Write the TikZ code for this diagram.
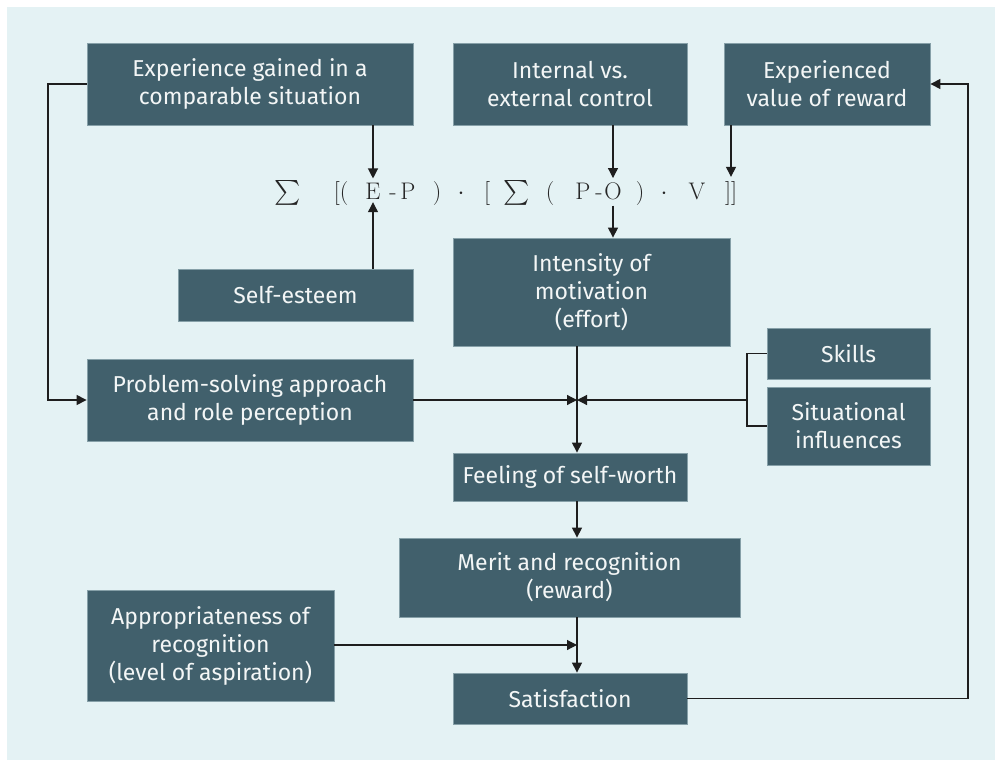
\documentclass[tikz,border=0pt]{standalone}
\usepackage{amsmath}
\usepackage{fontspec}
\setsansfont{Fira Sans}
\usetikzlibrary{arrows.meta,calc}
\definecolor{bgc}{HTML}{E4F2F4}
\definecolor{boxc}{HTML}{41606C}
\definecolor{boxline}{HTML}{86A0A8}
\definecolor{txtc}{HTML}{F3F6F6}
\definecolor{linec}{HTML}{1E1E1E}
\begin{document}
\begin{tikzpicture}[x=1pt,y=-1pt,
  blk/.style={rectangle, fill=boxc, draw=boxline, line width=0.8pt,
    text=txtc, align=center, inner sep=0pt,
    font=\sffamily\fontsize{23}{28}\selectfont},
  tok/.style={anchor=base, inner sep=0pt, text=black!85,
    font=\fontsize{24}{28}\selectfont},
  conn/.style={draw=linec, line width=1.2pt},
  arr/.style={conn, -{Triangle[length=10pt,width=10pt]}}]
\useasboundingbox (0,0) rectangle (995,760);
\fill[bgc] (7,7) rectangle (995,760);

% boxes
\node[blk, minimum width=326, minimum height=82] (exp) at (250,84) {Experience gained in a\\comparable situation};
\node[blk, minimum width=234, minimum height=82] (ctrl) at (570,84) {Internal vs.\\external control};
\node[blk, minimum width=206, minimum height=82] (val) at (827,84) {Experienced\\value of reward};
\node[blk, minimum width=235, minimum height=52] (self) at (295.5,295) {Self-esteem};
\node[blk, minimum width=277, minimum height=108] (int) at (591.5,292) {Intensity of\\motivation\\(effort)};
\node[blk, minimum width=326, minimum height=82] (prob) at (250,400) {Problem-solving approach\\and role perception};
\node[blk, minimum width=163, minimum height=51] (skill) at (848.5,353.5) {Skills};
\node[blk, minimum width=163, minimum height=78] (sit) at (848.5,426) {Situational\\influences};
\node[blk, minimum width=234, minimum height=48] (feel) at (570,477) {Feeling of self-worth};
\node[blk, minimum width=341, minimum height=79] (merit) at (569.5,577.5) {Merit and recognition\\(reward)};
\node[blk, minimum width=247, minimum height=111] (appr) at (210.5,645.5) {Appropriateness of\\recognition\\(level of aspiration)};
\node[blk, minimum width=234, minimum height=51] (sat) at (570,698.5) {Satisfaction};

% formula, token by token
\node[tok] (s1) at (288,199) {$\textstyle\sum$};
\node[tok] (lb1) at (341,199) {[(};
\node[tok] (E) at (373,199) {E};
\node[tok] (m1) at (393,199) {-};
\node[tok] (P1) at (408,199) {P};
\node[tok] (rp1) at (437,199) {)};
\node[tok] (d1) at (461,199) {$\cdot$};
\node[tok] (lb2) at (487,199) {[};
\node[tok] (s2) at (517,199) {$\textstyle\sum$};
\node[tok] (lp2) at (550,199) {(};
\node[tok] (P2) at (583,199) {P};
\node[tok] (m2) at (599,199) {-};
\node[tok] (O) at (613,199) {O};
\node[tok] (rp2) at (640,199) {)};
\node[tok] (d2) at (664,199) {$\cdot$};
\node[tok] (V) at (697,199) {V};
\node[tok] (rb) at (731,199) {]]};

% junction points
\coordinate (J) at (577,400);
\coordinate (K) at (577,645);
\coordinate (Br) at (747,400);
\coordinate (R) at (968,698.5);
\coordinate (L) at (48,84);

% inputs to the formula
\draw[arr, shorten >=4pt] (E |- exp.south) -- (E.north);
\draw[arr] (O |- ctrl.south) -- ([yshift=4pt]O.north);
\draw[arr] (rb |- val.south) -- ([yshift=4pt]rb.north);
\draw[arr] (E |- self.north) -- ([yshift=-3pt]E.south);
\draw[arr] ([yshift=-6pt]O.south) -- (O |- int.north);

% main chain
\draw[arr] (J |- int.south) -- (J |- feel.north);
\draw[arr] (prob.east |- J) -- (J);
\draw[arr] (Br) -- (J);
\draw[conn] (skill.west) -| (Br) |- (sit.west);
\draw[arr] (J |- feel.south) -- (J |- merit.north);
\draw[arr] (K |- merit.south) -- (K |- sat.north);
\draw[arr] (appr.east |- K) -- (K);

% feedback loops
\draw[arr] (exp.west) -- (L) |- (prob.west);
\draw[arr] (sat.east) -- (R) |- (val.east);
\end{tikzpicture}
\end{document}
